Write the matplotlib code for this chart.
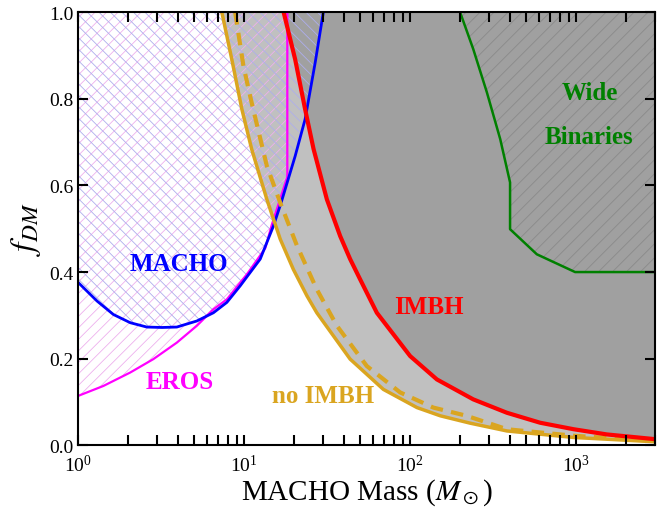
import matplotlib
matplotlib.use("Agg")
import matplotlib.pyplot as plt

plt.rcParams["font.family"] = ["Liberation Serif", "DejaVu Serif"]
plt.rcParams["mathtext.fontset"] = "stix"

# curves: MACHO mass (M_sun) vs dark-matter fraction
macho_m = [1.0, 1.30, 1.63, 2.06, 2.59, 3.2, 3.93, 5.19, 6.53, 7.87, 9.46, 12.5, 15.0, 16.7, 20.3, 23.3, 26.8, 30.0]
macho_f = [0.376, 0.333, 0.302, 0.283, 0.273, 0.272, 0.273, 0.287, 0.306, 0.330, 0.368, 0.430, 0.506, 0.560, 0.668, 0.753, 0.884, 1.0]

eros_m = [1.0, 1.42, 2.06, 2.84, 3.93, 5.19, 6.53, 7.87, 10.4, 13.4, 14.7, 18.2, 18.2]
eros_f = [0.114, 0.137, 0.168, 0.199, 0.237, 0.276, 0.314, 0.337, 0.395, 0.455, 0.510, 0.620, 1.0]

noimbh_m = [7.34, 8.43, 9.69, 11.1, 13.7, 16.5, 19.8, 23.9, 27.4, 43.5, 69.0, 110, 152, 230, 383, 966, 3000]
noimbh_f = [1.0, 0.891, 0.776, 0.684, 0.568, 0.476, 0.406, 0.345, 0.306, 0.199, 0.129, 0.087, 0.068, 0.051, 0.033, 0.018, 0.008]

dashed_m = [8.83, 9.9, 11.1, 13.7, 16.5, 20.8, 27.4, 36.2, 54.8, 87.1, 138, 219, 383, 966, 3000]
dashed_f = [1.0, 0.876, 0.791, 0.645, 0.560, 0.461, 0.360, 0.276, 0.183, 0.122, 0.087, 0.068, 0.037, 0.022, 0.010]

imbh_m = [17.3, 20.3, 23.3, 26.2, 31.5, 37.9, 43.5, 50, 63, 100, 145, 240, 383, 607, 966, 1530, 3000]
imbh_f = [1.0, 0.891, 0.776, 0.684, 0.568, 0.483, 0.430, 0.383, 0.306, 0.206, 0.152, 0.106, 0.075, 0.052, 0.037, 0.025, 0.014]

wide_m = [200, 240, 290, 349, 400, 400, 580, 986, 3000]
wide_f = [1.0, 0.915, 0.815, 0.707, 0.607, 0.499, 0.441, 0.400, 0.400]

GOLD = "#DAA520"

fig = plt.figure(figsize=(6.68, 5.10), dpi=100)
ax = fig.add_axes([0.117, 0.125, 0.864, 0.849])
ax.set_xscale("log")
ax.set_xlim(1, 3000)
ax.set_ylim(0, 1)


def hatch(region, spacing, direction, color, lw=0.6):
    # 45-degree hatch lines (in pixels), clipped to a filled region
    bb = ax.get_window_extent()
    k = bb.height / bb.width
    step = spacing / bb.width
    path, trans = region.get_paths()[0], region.get_transform()
    u = -1.0
    while u < 1.0 + k:
        xs = [u, u + k] if direction == "/" else [u + k, u]
        ln, = ax.plot(xs, [0, 1], transform=ax.transAxes, color=color, lw=lw, zorder=3)
        ln.set_clip_path(path, trans)
        u += step


# shaded exclusion regions
ax.fill_between(noimbh_m, noimbh_f, 1, color="#c0c0c0", lw=0, zorder=1)
ax.fill_between(imbh_m, imbh_f, 1, color="#a0a0a0", lw=0, zorder=2)
wide_reg = ax.fill_between(wide_m, wide_f, 1, facecolor="none", lw=0)
eros_reg = ax.fill_between(eros_m, eros_f, 1, facecolor="none", lw=0)
macho_reg = ax.fill_between(macho_m, macho_f, 1, facecolor="none", lw=0)
hatch(wide_reg, 14, "/", "#8c8c8c", 0.7)
hatch(eros_reg, 11.5, "/", "#eeb0ee", 0.6)
hatch(macho_reg, 11.5, "\\", "#aeaeec", 0.6)

# boundary curves
ax.plot(eros_m, eros_f, color="#ff00ff", lw=1.6, zorder=4)
ax.plot(macho_m, macho_f, color="#0000ff", lw=2.0, zorder=5)
ax.plot(dashed_m, dashed_f, color=GOLD, lw=3.0, ls=(0, (3, 2)), zorder=6)
ax.plot(noimbh_m, noimbh_f, color=GOLD, lw=2.5, zorder=6)
ax.plot(imbh_m, imbh_f, color="#ff0000", lw=3.0, zorder=7)
ax.plot(wide_m, wide_f, color="#008000", lw=1.8, zorder=7)

lab = dict(fontsize=18, fontweight="bold", ha="center", va="center", zorder=8)
ax.text(4.06, 0.42, "MACHO", color="#0000ff", **lab)
ax.text(4.1, 0.148, "EROS", color="#ff00ff", **lab)
ax.text(130, 0.321, "IMBH", color="#ff0000", **lab)
ax.text(29.9, 0.115, "no IMBH", color=GOLD, **lab)
ax.text(1214, 0.815, "Wide", color="#008000", **lab)
ax.text(1200, 0.714, "Binaries", color="#008000", **lab)

ax.set_yticks([0.0, 0.2, 0.4, 0.6, 0.8, 1.0])
ax.set_yticklabels(["0.0", "0.2", "0.4", "0.6", "0.8", "1.0"])
ax.tick_params(which="both", direction="in", top=True, right=True, labelsize=14,
               width=1.5, length=7)
ax.tick_params(axis="x", which="both", pad=6)
ax.xaxis.set_zorder(20)
ax.yaxis.set_zorder(20)
for s in ax.spines.values():
    s.set_linewidth(1.5)
    s.set_zorder(20)
ax.set_xlabel(r"MACHO Mass ($M_\odot$)", fontsize=21, labelpad=1)
ax.set_ylabel(r"$f_{DM}$", fontsize=24)

fig.savefig("out.png", dpi=100)
